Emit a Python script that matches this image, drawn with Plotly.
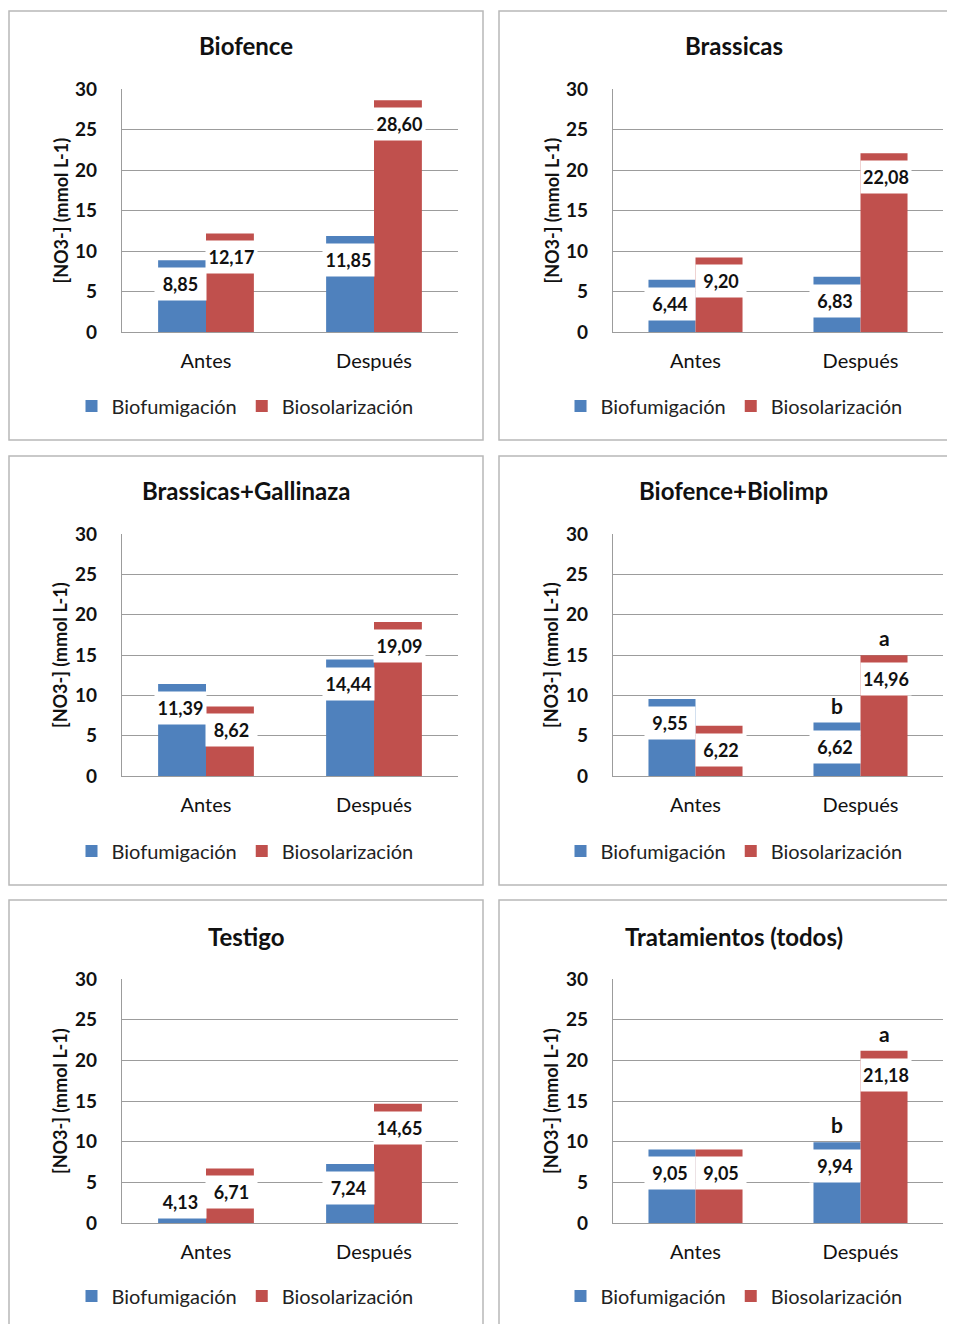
import plotly.graph_objects as go

# ---------------- data ----------------
categories = ["Antes", "Después"]
series_names = ["Biofumigación", "Biosolarización"]
panel_titles = ["Biofence", "Brassicas", "Brassicas+Gallinaza",
                "Biofence+Biolimp", "Testigo", "Tratamientos (todos)"]
biofumigacion = [[8.85, 11.85], [6.44, 6.83], [11.39, 14.44],
                 [9.55, 6.62], [4.13, 7.24], [9.05, 9.94]]
biosolarizacion = [[12.17, 28.60], [9.20, 22.08], [8.62, 19.09],
                   [6.22, 14.96], [6.71, 14.65], [9.05, 21.18]]
letras_biofumigacion = [["", ""], ["", ""], ["", ""], ["", "b"], ["", ""], ["", "b"]]
letras_biosolarizacion = [["", ""], ["", ""], ["", ""], ["", "a"], ["", ""], ["", "a"]]
y_tick_values = [0, 5, 10, 15, 20, 25, 30]
y_axis_title = "[NO3-] (mmol L-1)"

# ---------------- style / layout ----------------
W, H = 955, 1324
OFF = 8  # page body offset of the figure
FONT = "Lato"
COLORS = ["#4F81BD", "#C0504D"]
GRID = "#9c9c9c"
BOX = "#b8b8b8"
TEXT = "#111111"
BARGAP = 0.43
Y_MAX = 30

col_plot_x = [(122, 458), (613, 943)]
row_plot_y = [(89, 332), (534, 776), (979, 1223)]
col_box_x = [(9, 483), (499, 975)]
row_box_y = [(11, 440), (456, 885), (900, 1350)]
row_title_y = [45, 490, 936]
row_legend_y = [406, 851, 1296]
col_ytitle_x = [60, 551]
col_legend_cx = [245, 734]


def px_x(x):
    return (x - OFF) / W


def px_y(y):
    return 1 - (y - OFF) / H


def fmt(v):
    return f"{v:.2f}".replace(".", ",")


fig = go.Figure()
annotations = []
shapes = []
layout = {}

for i, title in enumerate(panel_titles):
    r, c = divmod(i, 2)
    n = i + 1
    sfx = "" if n == 1 else str(n)
    xa, ya, lg = "x" + sfx, "y" + sfx, "legend" + sfx
    x0, x1 = col_plot_x[c]
    y0, y1 = row_plot_y[r]
    plot_h = y1 - y0
    bar_w = (x1 - x0) / len(categories) * (1 - BARGAP) / 2

    series_vals = [biofumigacion[i], biosolarizacion[i]]
    series_letters = [letras_biofumigacion[i], letras_biosolarizacion[i]]
    for s, name in enumerate(series_names):
        fig.add_trace(go.Bar(
            x=categories, y=series_vals[s], name=name,
            marker=dict(color=COLORS[s], line=dict(width=0)),
            xaxis=xa, yaxis=ya, legend=lg, showlegend=True,
            hoverinfo="skip",
        ))
        for k, cat in enumerate(categories):
            v = series_vals[s][k]
            bar_px = v * plot_h / Y_MAX
            yshift = -min(7, bar_px - 38)
            annotations.append(dict(
                xref=xa, yref=ya, x=cat, y=v,
                xshift=(s - 0.5) * bar_w + (s - 0.5) * 3, yshift=yshift,
                xanchor="center", yanchor="top",
                text=f"<b>{fmt(v)}</b>", showarrow=False,
                bgcolor="white", borderpad=0, width=bar_w + 3, height=32,
                valign="middle", align="center",
                font=dict(family=FONT, size=18, color=TEXT),
            ))
            letter = series_letters[s][k]
            if letter:
                annotations.append(dict(
                    xref=xa, yref=ya, x=cat, y=v,
                    xshift=(s - 0.5) * bar_w, yshift=3,
                    xanchor="center", yanchor="bottom",
                    text=f"<b>{letter}</b>", showarrow=False,
                    font=dict(family=FONT, size=21, color=TEXT),
                ))

    layout["xaxis" + sfx] = dict(
        domain=[px_x(x0), px_x(x1)], anchor=ya, type="category",
        showline=True, linecolor=GRID, linewidth=1.3, ticks="",
        showgrid=False, ticklabelstandoff=11, automargin=False,
        tickfont=dict(family=FONT, size=20, color=TEXT),
        fixedrange=True,
    )
    layout["yaxis" + sfx] = dict(
        domain=[px_y(y1), px_y(y0)], anchor=xa, range=[0, Y_MAX],
        tickvals=y_tick_values, showgrid=True, gridcolor=GRID, gridwidth=1.3,
        showline=True, linecolor=GRID, linewidth=1.3, zeroline=False,
        ticks="", ticklabelstandoff=20, automargin=False,
        tickfont=dict(family=FONT, size=19, color=TEXT, weight="bold"),
        fixedrange=True,
    )
    layout[lg] = dict(
        orientation="h", x=px_x(col_legend_cx[c]), xanchor="center",
        y=px_y(row_legend_y[r]), yanchor="middle",
        font=dict(family=FONT, size=20, color="#222222"),
        bgcolor="rgba(0,0,0,0)", traceorder="normal", itemclick=False,
        itemdoubleclick=False,
    )

    bx0, bx1 = col_box_x[c]
    by0, by1 = row_box_y[r]
    shapes.append(dict(
        type="rect", xref="paper", yref="paper",
        x0=px_x(bx0), x1=px_x(bx1), y0=px_y(by1), y1=px_y(by0),
        line=dict(color=BOX, width=1.5), fillcolor="rgba(0,0,0,0)",
        layer="below",
    ))
    annotations.append(dict(
        xref="paper", yref="paper", x=px_x((bx0 + min(bx1, 968)) / 2),
        y=px_y(row_title_y[r]), xanchor="center", yanchor="middle",
        text=f"<b>{title}</b>", showarrow=False,
        font=dict(family=FONT, size=24, color=TEXT),
    ))
    annotations.append(dict(
        xref="paper", yref="paper", x=px_x(col_ytitle_x[c]),
        y=px_y((y0 + y1) / 2), xanchor="center", yanchor="middle",
        text=f"<b>{y_axis_title}</b>", textangle=-90, showarrow=False,
        font=dict(family=FONT, size=18, color=TEXT),
    ))

fig.update_layout(
    width=W, height=H, margin=dict(l=0, r=0, t=0, b=0, autoexpand=False),
    paper_bgcolor="white", plot_bgcolor="white",
    barmode="group", bargap=BARGAP, bargroupgap=0,
    annotations=annotations, shapes=shapes, hovermode=False,
    **layout,
)

fig.write_html("out.html")
